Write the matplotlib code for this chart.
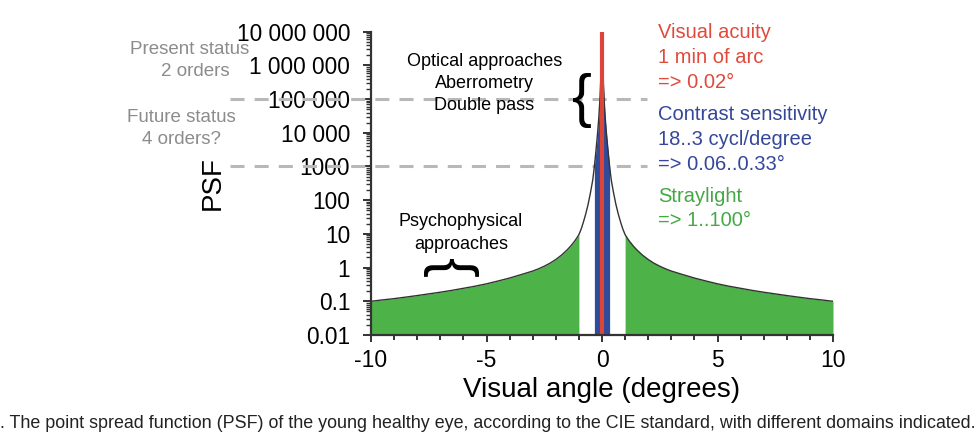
import matplotlib
matplotlib.use("Agg")
import matplotlib.pyplot as plt
import numpy as np

plt.rcParams['font.family'] = ['Liberation Sans', 'DejaVu Sans']

# ---- data (positive side; curve is symmetric) ----
angles_pos = [0.02, 0.04, 0.06, 0.09, 0.12, 0.15, 0.19, 0.23, 0.28, 0.33, 0.4, 0.5,
              0.6, 0.7, 0.8, 0.9, 1.0, 1.1, 1.2, 1.35, 1.5, 1.75, 2.0, 2.25, 2.5,
              2.75, 3.0, 3.5, 4.0, 4.5, 5.0, 5.5, 6.0, 6.5, 7.0, 7.5, 8.0, 8.5,
              9.0, 9.5, 10.0]
psf_pos = [1.5e6, 1e6, 3e5, 1e5, 4.5e4, 2.2e4, 1e4, 5000, 2200, 1000, 400, 166,
           76, 40, 23, 14, 9.5, 7.4, 5.9, 4.4, 3.4, 2.35, 1.74, 1.35, 1.1,
           0.92, 0.79, 0.62, 0.49, 0.40, 0.33, 0.28, 0.243, 0.211, 0.186, 0.166, 0.148, 0.133,
           0.12, 0.11, 0.10]

ytick_vals = [0.01, 0.1, 1, 10, 100, 1000, 1e4, 1e5, 1e6, 1e7]
ytick_labels = ["0.01", "0.1", "1", "10", "100", "1000", "10 000", "100 000",
                "1 000 000", "10 000 000"]
xtick_vals = [-10, -5, 0, 5, 10]
xtick_labels = ["-10", "-5", "0", "5", "10"]

straylight_from = 1.0      # deg
contrast_to = 0.33         # deg
acuity_at = 0.0
status_levels = [1e5, 1e3]

angles = np.array([-a for a in angles_pos[::-1]] + angles_pos)
psf = np.array(psf_pos[::-1] + psf_pos)

W, H = 980, 442
fig = plt.figure(figsize=(W / 100, H / 100), dpi=100)
fig.patch.set_facecolor("white")

def fx(px):
    return px / W

def fy(py):
    return 1 - py / H

ax = fig.add_axes([fx(371), fy(335), fx(833) - fx(371), fy(31.7) - fy(335)])
ax.set_yscale("log")
ax.set_xlim(-10, 10)
ax.set_ylim(0.01, 1e7)

GREEN = "#4db248"
BLUE = "#2f4b9c"
RED = "#dc4638"
CURVE = "#333333"

m_left = angles <= -straylight_from
m_right = angles >= straylight_from
m_mid = np.abs(angles) <= contrast_to
for m, c in [(m_left, GREEN), (m_right, GREEN), (m_mid, BLUE)]:
    ax.fill_between(angles[m], 0.01, psf[m], color=c, linewidth=0, zorder=4)

ax.plot(angles, psf, color=CURVE, lw=1.0, zorder=5)
ax.plot([acuity_at, acuity_at], [0.01, 1e7], color=RED, lw=3.0, zorder=6,
        solid_capstyle="butt")

# dashed status lines (extend left past the axis)
for lv in status_levels:
    ax.plot([-16.1, 1.95], [lv, lv], color="#b8b8b8", lw=2.2,
            dashes=(4.6, 3.3), clip_on=False, zorder=3)

# axes styling
for s in ["top", "right"]:
    ax.spines[s].set_visible(False)
for s in ["left", "bottom"]:
    ax.spines[s].set_color("#333333")
    ax.spines[s].set_linewidth(1.6)
    ax.spines[s].set_zorder(7)

ax.set_yticks(ytick_vals)
ax.set_yticklabels(ytick_labels)
ax.yaxis.set_minor_locator(matplotlib.ticker.LogLocator(base=10, subs=np.arange(2, 10), numticks=20))
ax.yaxis.set_minor_formatter(matplotlib.ticker.NullFormatter())
ax.tick_params(axis="y", which="major", direction="out", length=6, width=1.4,
               colors="#333333", labelsize=16.3, pad=9, labelcolor="black")
ax.tick_params(axis="y", which="minor", direction="out", length=3.5, width=1.0, colors="#333333")

ax.set_xticks(xtick_vals)
ax.set_xticklabels(xtick_labels)
ax.xaxis.set_minor_locator(matplotlib.ticker.MultipleLocator(1))
ax.tick_params(axis="x", which="major", direction="out", length=5, width=1.4,
               colors="#333333", labelsize=16.5, pad=5, labelcolor="black")
ax.tick_params(axis="x", which="minor", direction="out", length=3.5, width=1.4,
               colors="#333333")

ax.set_xlabel("Visual angle (degrees)", fontsize=20, labelpad=4, color="black")
fig.text(fx(213), fy(183), "PSF", rotation=90, fontsize=20, ha="center", va="center")

# annotations
gray = "#8c8c8c"
fig.text(fx(190), fy(49), "Present status", color=gray, fontsize=13.5, ha="center", va="center")
fig.text(fx(195), fy(72), "2 orders", color=gray, fontsize=13.5, ha="center", va="center")
fig.text(fx(181), fy(117), "Future status", color=gray, fontsize=13.5, ha="center", va="center")
fig.text(fx(181), fy(140), "4 orders?", color=gray, fontsize=13.5, ha="center", va="center")

for i, t in enumerate(["Optical approaches", "Aberrometry", "Double pass"]):
    fig.text(fx(484.5), fy(62 + 22 * i), t, fontsize=13, ha="center", va="center")
fig.text(fx(582), fy(100), "{", fontsize=43, ha="center", va="center")

fig.text(fx(461), fy(222), "Psychophysical", fontsize=13, ha="center", va="center")
fig.text(fx(461), fy(244), "approaches", fontsize=13, ha="center", va="center")
fig.text(fx(449), fy(268), "{", fontsize=43, ha="center", va="center", rotation=-90)

for i, t in enumerate(["Visual acuity", "1 min of arc", "=> 0.02°"]):
    fig.text(fx(658), fy(33 + 24.5 * i), t, color="#e04a3c", fontsize=14.5, ha="left", va="center")
for i, t in enumerate(["Contrast sensitivity", "18..3 cycl/degree", "=> 0.06..0.33°"]):
    fig.text(fx(658), fy(115 + 24.5 * i), t, color="#34479a", fontsize=14.5, ha="left", va="center")
for i, t in enumerate(["Straylight", "=> 1..100°"]):
    fig.text(fx(658), fy(197 + 24 * i), t, color="#45a845", fontsize=14.5, ha="left", va="center")

fig.text(fx(0), fy(424), ". The point spread function (PSF) of the young healthy eye, according to the CIE standard, with different domains indicated.",
         fontsize=12.9, ha="left", va="center", color="#222222")

fig.savefig("out.png", dpi=100, facecolor="white")
